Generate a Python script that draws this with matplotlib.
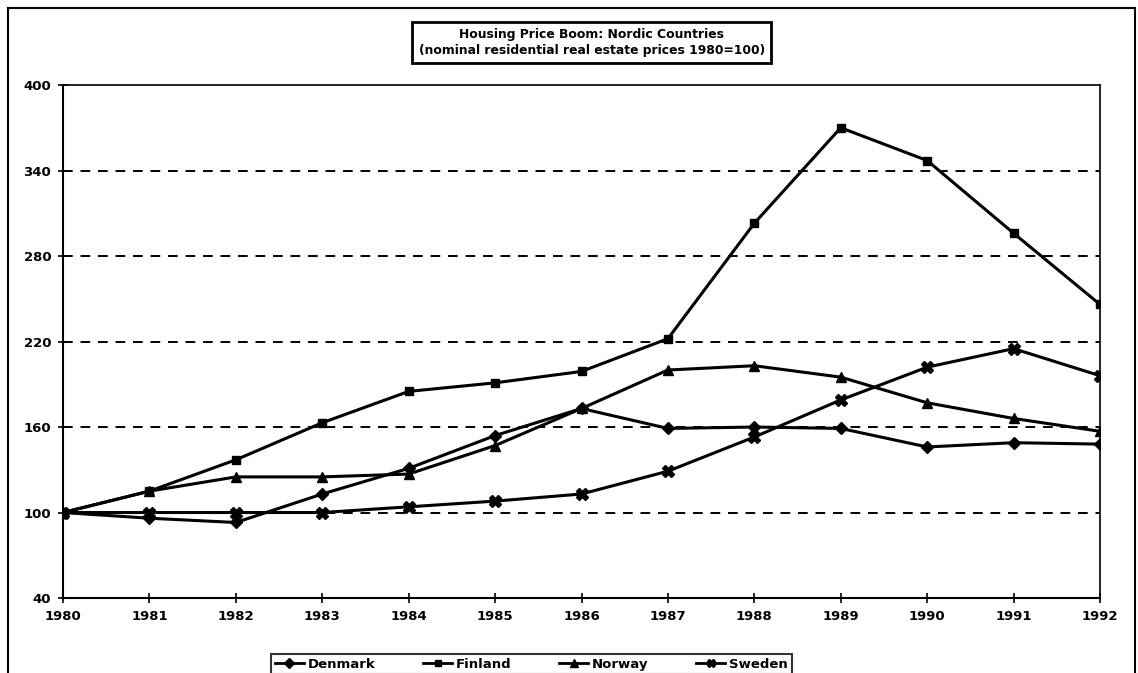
import matplotlib
matplotlib.use("Agg")
import matplotlib.pyplot as plt
from matplotlib.patches import Rectangle
from matplotlib.lines import Line2D

plt.rcParams['font.family'] = ['DejaVu Sans']
plt.rcParams['font.weight'] = 'bold'

years = list(range(1980, 1993))
denmark = [100, 96, 93, 113, 131, 154, 173, 159, 160, 159, 146, 149, 148]
finland = [100, 115, 137, 163, 185, 191, 199, 222, 303, 370, 347, 296, 246]
norway = [100, 115, 125, 125, 127, 147, 173, 200, 203, 195, 177, 166, 157]
sweden = [100, 100, 100, 100, 104, 108, 113, 129, 153, 179, 202, 215, 196]
series_names = ["Denmark", "Finland", "Norway", "Sweden"]
y_ticks = [40, 100, 160, 220, 280, 340, 400]
title_lines = ["Housing Price Boom: Nordic Countries",
               "(nominal residential real estate prices 1980=100)"]

fig = plt.figure(figsize=(11.38, 6.73), dpi=100)
ax = fig.add_axes([0.0554, 0.1114, 0.9112, 0.7623])

markers = ['D', 's', '^', 'X']
msizes = [6, 6, 7, 8]
data = [denmark, finland, norway, sweden]
for name, vals, m, ms in zip(series_names, data, markers, msizes):
    ax.plot(years, vals, color='black', lw=2.2, marker=m, ms=ms,
            markerfacecolor='black', markeredgecolor='black', label=name, zorder=3)

ax.set_xlim(1980, 1992)
ax.set_ylim(40, 400)
ax.set_yticks(y_ticks)
ax.set_xticks(years)
ax.set_xticklabels([str(y) for y in years])
for y in y_ticks[1:-1]:
    ax.axhline(y, color='black', lw=1.4, ls=(0, (5, 4)), zorder=1)

for s in ['left', 'bottom']:
    ax.spines[s].set_linewidth(1.5)
for s in ['top', 'right']:
    ax.spines[s].set_linewidth(1.2)
ax.tick_params(axis='both', direction='inout', length=7, width=1.2, labelsize=9.5, pad=5)
for lab in ax.get_xticklabels() + ax.get_yticklabels():
    lab.set_fontweight('bold')

# title box
fig.text(0.52, 0.937, title_lines[0] + "\n" + title_lines[1], ha='center', va='center',
         fontsize=8.9, fontweight='bold', linespacing=1.3,
         bbox=dict(boxstyle='square,pad=0.5', facecolor='white', edgecolor='black', lw=2))

# legend
handles = [Line2D([0], [0], color='black', lw=2, marker=m, ms=ms * 0.8,
                  markerfacecolor='black') for m, ms in zip(markers, msizes)]
leg = fig.legend(handles, series_names, loc='lower center', bbox_to_anchor=(0.467, -0.012),
                 ncol=4, frameon=True, fancybox=False, edgecolor='black',
                 handlelength=2.2, handletextpad=0.3, columnspacing=3.6,
                 borderpad=0.3, prop={'weight': 'bold', 'size': 9.5})
leg.get_frame().set_linewidth(1.5)

# outer frame
fig.add_artist(Rectangle((0.007, -0.01), 0.99, 0.998, transform=fig.transFigure,
                         fill=False, edgecolor='black', lw=1.5))

fig.savefig("out.png", dpi=100, facecolor='white')
